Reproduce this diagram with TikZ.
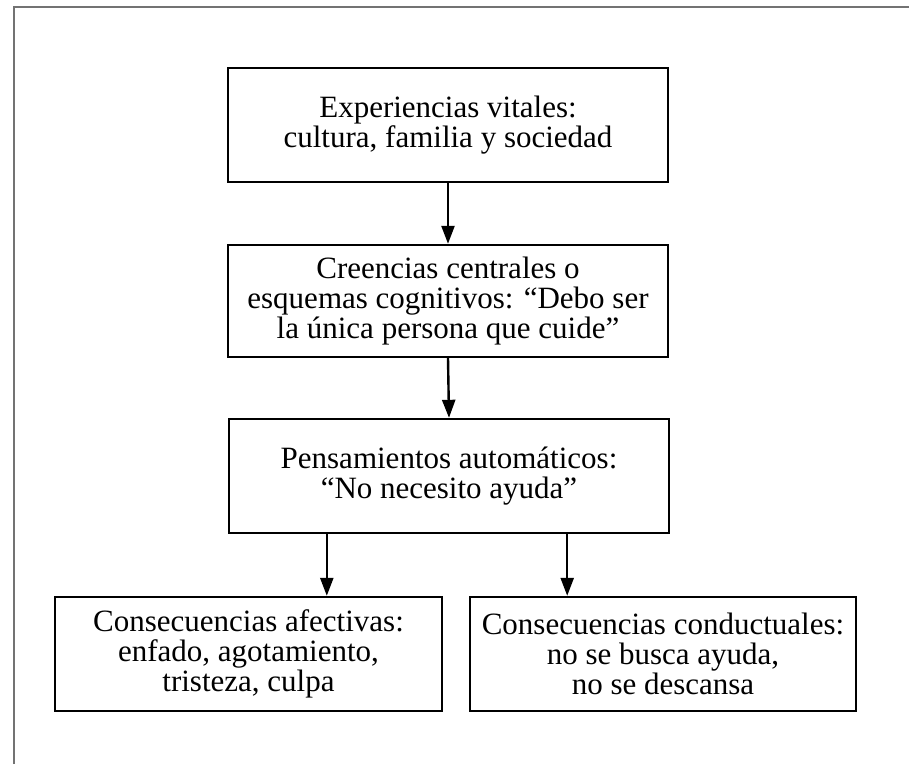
\documentclass[tikz,border=0pt]{standalone}
\usepackage{fontspec}
\setmainfont{Liberation Serif}
\usetikzlibrary{arrows.meta,calc}
\tikzset{
	caja/.style={
			draw=black, line width=2.4pt, inner sep=0pt, align=center,
			minimum height=114pt, font=\fontsize{31}{30}\selectfont
		},
	flecha/.style={
			line width=2.4pt, -{Triangle[width=13pt,length=18pt]}
		}
}

\begin{document}
\begin{tikzpicture}[x=1pt,y=-1pt]
		\useasboundingbox (0,0) rectangle (909,764);
		\draw [black!55, line width=1.8pt]	(14,764) -- (14,7) -- (909,7);
		\node [caja, minimum width=440pt] (exp) at (448,125) {Experiencias vitales:\\cultura, familia y sociedad};
		\node [caja, minimum width=440pt, minimum height=112pt] (cre) at (448,301) {Creencias centrales o\\esquemas cognitivos: ``Debo ser\\la única persona que cuide''};
		\node [caja, minimum width=440pt] (pen) at (449,476) {Pensamientos automáticos:\\``No necesito ayuda''};
		\node [caja, minimum width=387pt] (afe) at (248.5,654) {Consecuencias afectivas:\\enfado, agotamiento,\\tristeza, culpa};
		\node [caja, minimum width=386pt] (con) at (663,654) {Consecuencias conductuales:\\no se busca ayuda,\\no se descansa};
		\coordinate (pa) at ($(pen.south west)+(99,0)$);
		\coordinate (pc) at ($(pen.south east)-(103,0)$);
		\draw [flecha]	(exp.south) -- (cre.north);
		\draw [flecha]	(cre.south) -- (pen.north);
		\draw [flecha]	(pa) -- (pa |- afe.north);
		\draw [flecha]	(pc) -- (pc |- con.north);
	\end{tikzpicture}
\end{document}
